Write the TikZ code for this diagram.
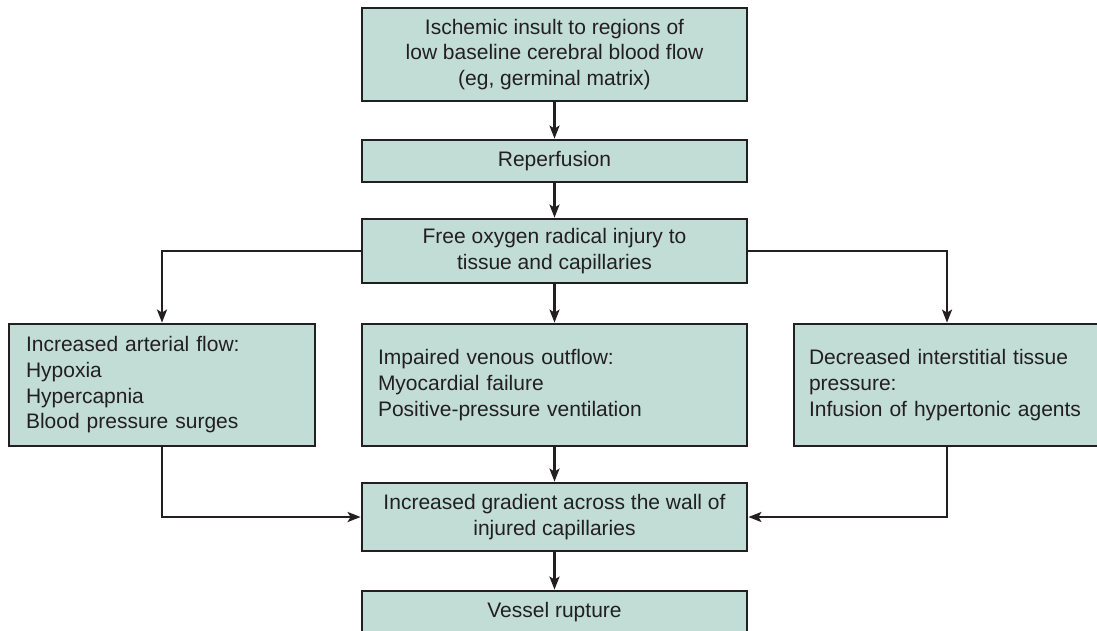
\documentclass[tikz,border=0pt]{standalone}
\usepackage{fontspec}
\setmainfont{Liberation Sans}
\usetikzlibrary{arrows.meta}
\definecolor{dk}{HTML}{231F20}
\definecolor{boxfill}{HTML}{C1DDD6}
\begin{document}
\begin{tikzpicture}[x=1pt,y=-1pt,
  box/.style={draw=dk, line width=2.8pt, fill=boxfill, text=dk,
    font=\fontsize{21}{25.7}\selectfont, inner sep=0pt, rectangle},
  cbox/.style={box, minimum width=385pt, align=center},
  sbox/.style={box, minimum height=122pt, align=left},
  conn/.style={draw=dk, line width=2.3pt, -{Stealth[length=13pt,width=10pt,inset=3pt]}}]
\useasboundingbox (0,0) rectangle (1097,630);
\node[cbox, minimum height=93pt] (isch) at (554.5,54.5)
  {Ischemic insult to regions of\\low baseline cerebral blood flow\\(eg, germinal matrix)};
\node[cbox, minimum height=42pt] (rep) at (554.5,161) {Reperfusion};
\node[cbox, minimum height=64pt] (free) at (554.5,251)
  {Free oxygen radical injury to\\tissue and capillaries};
\node[sbox, text width=272pt, inner xsep=17pt] (art) at (162,385)
  {Increased arterial flow:\\Hypoxia\\Hypercapnia\\Blood pressure surges};
\node[sbox, text width=353pt, inner xsep=16pt] (ven) at (554.5,385)
  {Impaired venous outflow:\\Myocardial failure\\Positive-pressure ventilation};
\node[sbox, text width=276pt, inner xsep=15pt] (int) at (947,385)
  {Decreased interstitial tissue\\pressure:\\Infusion of hypertonic agents};
\node[cbox, minimum height=68pt] (grad) at (554.5,517)
  {Increased gradient across the wall of\\injured capillaries};
\node[cbox, minimum height=42pt] (rup) at (554.5,612) {Vessel rupture};
\draw[conn] (isch) -- (rep);
\draw[conn] (rep) -- (free);
\draw[conn] (free.west) -| (art.north);
\draw[conn] (free.east) -| (int.north);
\draw[conn] (free) -- (ven);
\draw[conn] (art.south) |- (grad.west);
\draw[conn] (int.south) |- (grad.east);
\draw[conn] (ven) -- (grad);
\draw[conn] (grad) -- (rup);
\end{tikzpicture}
\end{document}
